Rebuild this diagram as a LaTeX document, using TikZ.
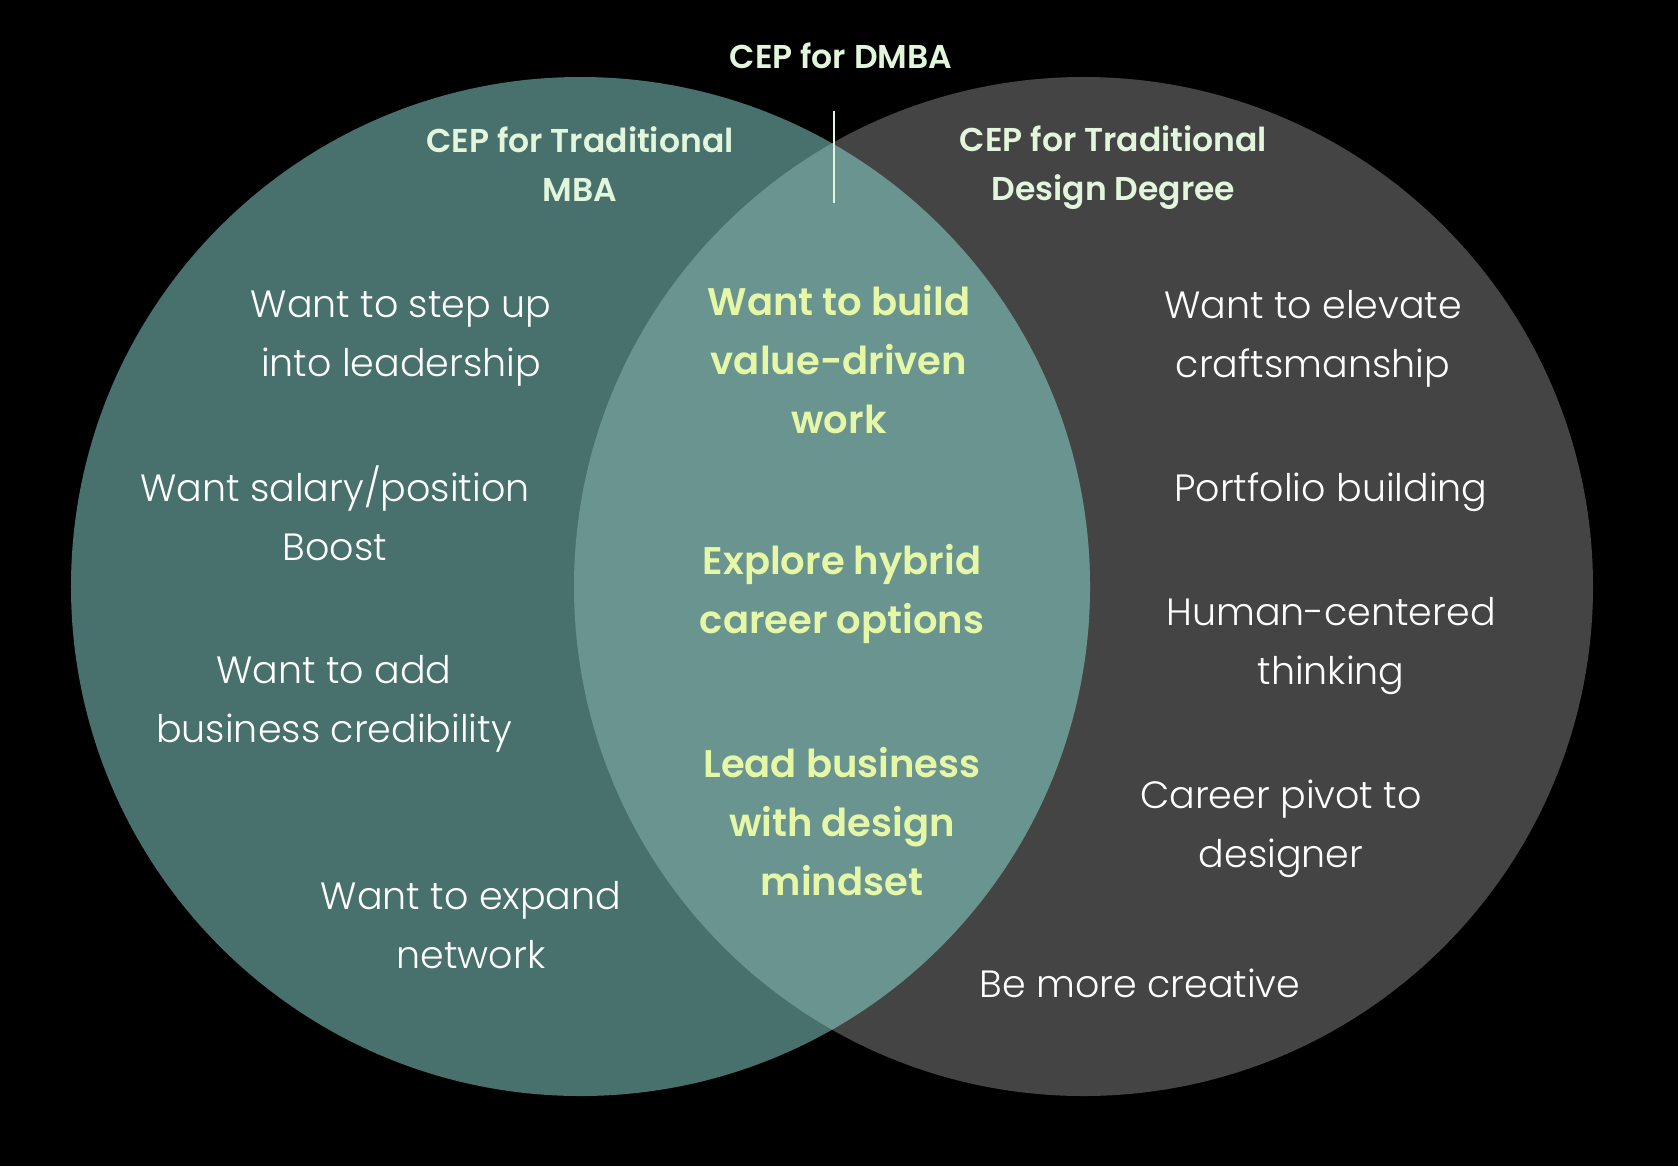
\documentclass[tikz,border=0pt]{standalone}
\usepackage{fontspec}
\setmainfont{Poppins}[UprightFont=* Light, BoldFont=* SemiBold]
\definecolor{mbacol}{HTML}{48716D}
\definecolor{descol}{HTML}{444444}
\definecolor{ovlcol}{HTML}{6A9490}
\definecolor{headcol}{HTML}{E2F6DC}
\definecolor{centcol}{HTML}{E6F7A6}
\tikzset{
  ring/.style={circle, inner sep=0pt, minimum size=1019bp},
  bodytxt/.style={text=white, align=center, inner sep=0pt,
    font=\fontsize{38bp}{59bp}\selectfont},
  headtxt/.style={text=headcol, align=center, inner sep=0pt,
    font=\fontsize{33bp}{49bp}\selectfont\bfseries},
  centtxt/.style={text=centcol, align=center, inner sep=0pt,
    font=\fontsize{38.5bp}{59bp}\selectfont\bfseries},
}
\begin{document}
\begin{tikzpicture}[x=1bp,y=-1bp]
\fill[black] (0,0) rectangle (1678,1166);
\useasboundingbox (0,0) rectangle (1678,1166);
% circles
\node[ring, fill=descol] (des) at (1083.5,586.5) {};
\node[ring, fill=mbacol] (mba) at (580.5,586.5) {};
\begin{scope}
  \clip (580.5,586.5) circle[radius=509.5bp];
  \fill[ovlcol] (1083.5,586.5) circle[radius=509.5bp];
\end{scope}
% divider
\coordinate (ltop) at (834,111);
\coordinate (lbot) at (834,203);
\draw[headcol, line width=2bp] (ltop) -- (lbot);
% headings
\node[headtxt] (hd) at (841,56) {CEP for DMBA};
\node[headtxt] (hm) at (580,164) {CEP for Traditional\\MBA};
\node[headtxt] (hg) at (1113.5,168) {CEP for Traditional\\Design Degree};
% left
\node[bodytxt] (l1) at (401,338.5) {Want to step up\\into leadership};
\node[bodytxt] (l2) at (335,513) {Want salary/position\\Boost};
\node[bodytxt] (l3) at (334,704) {Want to add\\business credibility};
\node[bodytxt] (l4) at (471,925) {Want to expand\\network};
% right
\node[bodytxt] (r1) at (1313,338.5) {Want to elevate\\craftsmanship};
\node[bodytxt] (r2) at (1331,492) {Portfolio building};
\node[bodytxt] (r3) at (1331,646.5) {Human-centered\\thinking};
\node[bodytxt] (r4) at (1281,828.5) {Career pivot to\\designer};
\node[bodytxt] (r5) at (1140,983) {Be more creative};
% centre
\node[centtxt] (c1) at (839,360) {Want to build\\value-driven\\work};
\node[centtxt] (c2) at (842,594) {Explore hybrid\\career options};
\node[centtxt] (c3) at (842,822) {Lead business\\with design\\mindset};
\end{tikzpicture}
\end{document}
